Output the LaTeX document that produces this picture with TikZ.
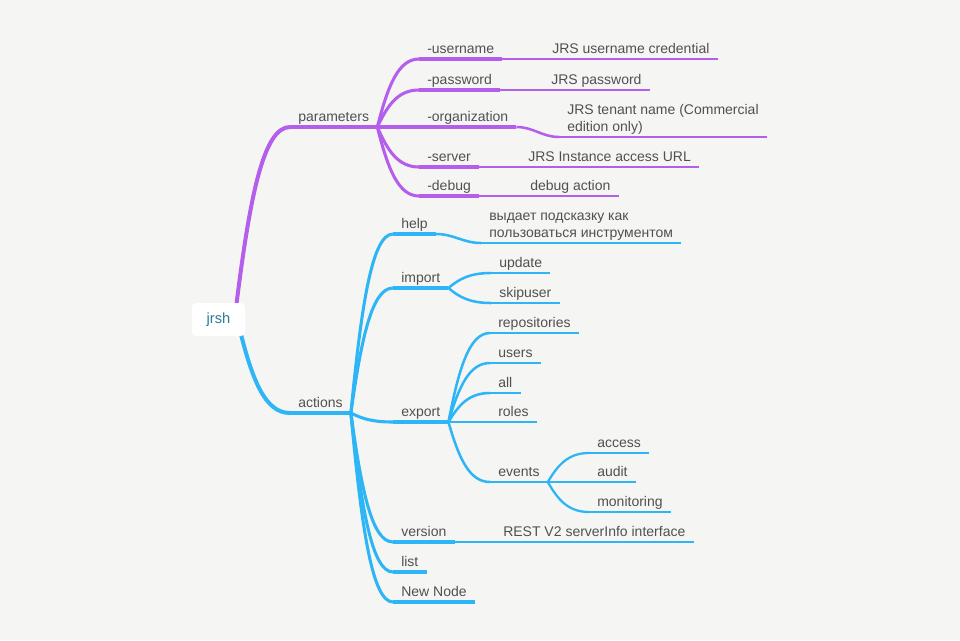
\documentclass[tikz,border=0pt]{standalone}
\usepackage{fontspec}
\setmainfont{Liberation Sans}
\usetikzlibrary{calc,backgrounds}

\definecolor{paramcol}{HTML}{B55EEB}
\definecolor{actcol}{HTML}{2DB5F5}
\definecolor{topictext}{HTML}{505050}
\definecolor{rootcol}{HTML}{2B7A9A}
\definecolor{bgcol}{HTML}{F5F6F4}

\begin{document}
\begin{tikzpicture}[x=0.75pt,y=-0.75pt,line cap=round,line join=round]
	\tikzstyle{topic}=[anchor=south west,inner xsep=6pt,inner ysep=3.6pt,text depth=0pt,text=topictext,font=\fontsize{10.5}{13}\selectfont]
	\tikzstyle{topictwo}=[topic,align=left]
	\tikzstyle{rootbox}=[fill=white,rounded corners=3pt,minimum width=39.75pt,minimum height=24.75pt,text=rootcol,font=\fontsize{11}{13}\selectfont]
	\tikzstyle{pline}=[draw=paramcol]
	\tikzstyle{aline}=[draw=actcol]
	\tikzstyle{lvone}=[line width=3pt]
	\tikzstyle{lvtwo}=[line width=2.3pt]
	\tikzstyle{lvthree}=[line width=1.9pt]
	\tikzstyle{lvfour}=[line width=1.7pt]
	\tikzset{branch/.style={to path={let \p1=(\tikztostart), \p2=(\tikztotarget) in
		.. controls ({\x1+0.25*(\x2-\x1)},{\y1+0.6*(\y2-\y1)}) and ({0.5*(\x1+\x2)},\y2) .. (\tikztotarget)}}}
	\useasboundingbox (0,0) rectangle (960,640);

	\node[rootbox] (root) at (218.5,319.5) {jrsh};

	% parameters
	\node[topic] (par)  at (290,127) {parameters};
	\node[topic] (usr)  at (419,59)  {-username};
	\node[topic] (pwd)  at (419,90)  {-password};
	\node[topic] (org)  at (419,127) {-organization};
	\node[topic] (srv)  at (419,167) {-server};
	\node[topic] (dbg)  at (419,196) {-debug};
	\node[topic] (usrd) at (544,59)  {JRS username credential};
	\node[topic] (pwdd) at (543,90)  {JRS password};
	\node[topictwo] (orgd) at (559,137) {JRS tenant name (Commercial\\edition only)};
	\node[topic] (srvd) at (520,167) {JRS Instance access URL};
	\node[topic] (dbgd) at (522,196) {debug action};

	% actions
	\node[topic] (act)  at (290,413) {actions};
	\node[topic] (hlp)  at (393,234) {help};
	\node[topic] (imp)  at (393,288) {import};
	\node[topic] (exp)  at (393,422) {export};
	\node[topic] (ver)  at (393,542) {version};
	\node[topic] (lst)  at (393,572) {list};
	\node[topic] (nn)   at (393,602) {New Node};
	\node[topictwo] (hlpd) at (481,243) {выдает подсказку как\\пользоваться инструментом};
	\node[topic] (upd)  at (491,273) {update};
	\node[topic] (skp)  at (491,303) {skipuser};
	\node[topic] (rep)  at (490,333) {repositories};
	\node[topic] (usrs) at (490,363) {users};
	\node[topic] (all)  at (490,393) {all};
	\node[topic] (rol)  at (490,422) {roles};
	\node[topic] (evt)  at (490,482) {events};
	\node[topic] (verd) at (495,542) {REST V2 serverInfo interface};
	\node[topic] (acc)  at (589,453) {access};
	\node[topic] (aud)  at (589,482) {audit};
	\node[topic] (mon)  at (589,512) {monitoring};

	\coordinate (rootN) at ($(root.north)!0.65!(root.north east)+(0,6)$);
	\coordinate (rootS) at ($(root.south)!0.8!(root.south east)+(0,-6)$);

	\begin{scope}[on background layer]
		\fill[bgcol] (0,0) rectangle (960,640);
		% parameters branch
		\path[pline,lvone] (rootN) edge[branch] (par.south west);
		\draw[pline,lvone] (par.south west) -- (par.south east);
		\path[pline,lvtwo]
		(par.south east) edge[branch] (usr.south west)
		(par.south east) edge[branch] (pwd.south west)
		(par.south east) edge (org.south west)
		(par.south east) edge[branch] (srv.south west)
		(par.south east) edge[branch] (dbg.south west);
		\foreach \t in {usr,pwd,org,srv,dbg}
			\draw[pline,lvtwo] (\t.south west) -- (\t.south east);
		\path[pline,lvthree]
		(usr.south east) edge (usrd.south west)
		(pwd.south east) edge (pwdd.south west)
		(org.south east) edge[out=0,in=180] (orgd.south west)
		(srv.south east) edge (srvd.south west)
		(dbg.south east) edge (dbgd.south west);
		\foreach \t in {usrd,pwdd,orgd,srvd,dbgd}
			\draw[pline,lvthree] (\t.south west) -- (\t.south east);

		% actions branch
		\path[aline,lvone] (rootS) edge[branch] (act.south west);
		\draw[aline,lvone] (act.south west) -- (act.south east);
		\path[aline,lvtwo]
		(act.south east) edge[branch] (hlp.south west)
		(act.south east) edge[branch] (imp.south west)
		(act.south east) edge[branch] (exp.south west)
		(act.south east) edge[branch] (ver.south west)
		(act.south east) edge[branch] (lst.south west)
		(act.south east) edge[branch] (nn.south west);
		\foreach \t in {hlp,imp,exp,ver,lst,nn}
			\draw[aline,lvtwo] (\t.south west) -- (\t.south east);
		\path[aline,lvthree]
		(hlp.south east) edge[out=0,in=180] (hlpd.south west)
		(imp.south east) edge[branch] (upd.south west)
		(imp.south east) edge[branch] (skp.south west)
		(exp.south east) edge[branch] (rep.south west)
		(exp.south east) edge[branch] (usrs.south west)
		(exp.south east) edge[branch] (all.south west)
		(exp.south east) edge (rol.south west)
		(exp.south east) edge[branch] (evt.south west)
		(ver.south east) edge (verd.south west);
		\foreach \t in {hlpd,upd,skp,rep,usrs,all,rol,evt,verd}
			\draw[aline,lvthree] (\t.south west) -- (\t.south east);
		\path[aline,lvfour]
		(evt.south east) edge[branch] (acc.south west)
		(evt.south east) edge (aud.south west)
		(evt.south east) edge[branch] (mon.south west);
		\foreach \t in {acc,aud,mon}
			\draw[aline,lvfour] (\t.south west) -- (\t.south east);
	\end{scope}
\end{tikzpicture}
\end{document}
